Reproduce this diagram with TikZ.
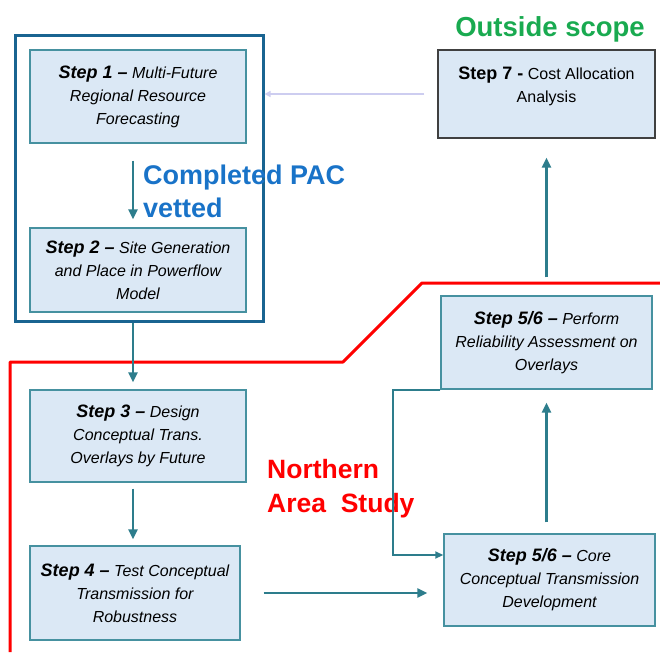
\documentclass[tikz,border=0pt]{standalone}
\usepackage{fontspec}
\setmainfont{Liberation Sans}
\usetikzlibrary{positioning, arrows.meta}
\definecolor{boxfill}{RGB}{219,232,245}
\definecolor{boxline}{RGB}{70,145,160}
\definecolor{flowcol}{RGB}{45,125,140}
\definecolor{pacframe}{RGB}{25,100,145}
\definecolor{pacblue}{RGB}{25,115,200}
\definecolor{scopegreen}{RGB}{25,170,80}
\definecolor{backcol}{RGB}{205,205,240}
\newcommand{\stp}[1]{{\fontsize{18}{23}\selectfont\bfseries #1}}

\begin{document}
\begin{tikzpicture}[x=1pt, y=-1pt, node distance=80pt,
    stepbox/.style={draw=boxline, line width=1.4pt, fill=boxfill, align=center,
      inner sep=0pt, minimum width=216pt, font=\fontsize{16}{23}\selectfont\itshape},
    flow/.style={draw=flowcol, line width=2.6pt, -{Triangle[length=10pt, width=9pt]}},
    feedback/.style={draw=flowcol, line width=1.8pt, -{Triangle[length=8pt, width=7pt]}},
    back/.style={draw=backcol, line width=2.2pt, -{Triangle[length=6pt, width=6pt]}},
    pacbox/.style={draw=pacframe, line width=3pt, inner sep=0pt},
    arealine/.style={draw=red, line width=3pt, line join=round}]
    \useasboundingbox (0,0) rectangle (660,652);

    \node[stepbox, minimum height=93pt] (s1) at (138,96.5)
      {\stp{Step 1 –} Multi-Future\\Regional Resource\\Forecasting};
    \node[stepbox, minimum height=84pt, below=83.6pt of s1] (s2)
      {\stp{Step 2 –} Site Generation\\and Place in Powerflow\\Model};
    \node[stepbox, minimum height=92pt, below=76.6pt of s2] (s3)
      {\stp{Step 3 –} Design\\Conceptual Trans.\\Overlays by Future};
    \node[stepbox, minimum width=210pt, minimum height=94pt, below=62.6pt of s3, xshift=-3pt] (s4)
      {\stp{Step 4 –} Test Conceptual\\Transmission for\\Robustness};

    \node[pacbox, minimum width=248pt, minimum height=285pt] (pac) at (139,178.5) {};

    \node[stepbox, draw=black!75, minimum width=217pt, minimum height=88pt,
      font=\fontsize{16}{23}\selectfont] (s7) at (546.5,94)
      {\stp{Step 7 -} Cost Allocation\\Analysis\\[-4pt]\mbox{}};
    \node[stepbox, minimum width=211pt, minimum height=93pt] (s56a) at (546.5,342.5)
      {\stp{Step 5/6 –} Perform\\Reliability Assessment on\\Overlays};
    \node[stepbox, minimum width=211pt, minimum height=92pt, below=143.6pt of s56a, xshift=3pt] (s56b)
      {\stp{Step 5/6 –} Core\\Conceptual Transmission\\Development};

    \draw[arealine] (10,652) -- (10,362) -- (343,362) -- (422,283) -- (660,283);

    \node[anchor=north west, inner sep=0pt, align=left, text=pacblue,
      font=\fontsize{27}{33}\selectfont\bfseries] (pacl) at (143,165) {Completed PAC\\vetted};
    \node[anchor=base, inner sep=0pt, text=scopegreen,
      font=\fontsize{27.5}{33}\selectfont\bfseries] (outl) at (550,37) {Outside scope};
    \node[anchor=north west, inner sep=0pt, align=left, text=red,
      font=\fontsize{26.5}{34}\selectfont\bfseries] (areal) at (267,459) {Northern\\Area\ \ Study};

    \draw[flow, shorten <=17pt, shorten >=8pt] ([xshift=-5pt]s1.south) -- ([xshift=-5pt]s2.north);
    \draw[flow, shorten >=7pt] ([xshift=-5pt]s2.south |- pac.south) -- ([xshift=-5pt]s3.north);
    \draw[flow, shorten <=6pt, shorten >=6pt] ([xshift=-5pt]s3.south) -- ([xshift=-2pt]s4.north);
    \draw[flow, shorten <=23pt, shorten >=16pt] (s4.east) -- (s4.east -| s56b.west);
    \draw[flow, shorten <=11pt, shorten >=13pt] (s56a.south |- s56b.north) -- (s56a.south);
    \draw[flow, shorten <=18pt, shorten >=19pt] (s56a.north) -- (s7.south);
    \draw[back, shorten <=13pt] (s7.west) -- (s7.west -| pac.east);

    \coordinate (fb) at (393,555);
    \draw[feedback] (s56a.south west) -| (fb) -- (fb -| s56b.west);
  \end{tikzpicture}
\end{document}
